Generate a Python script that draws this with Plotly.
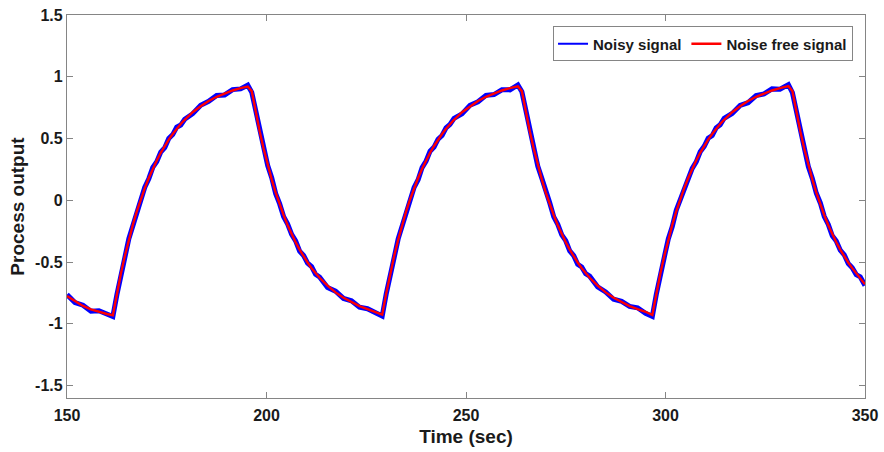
import plotly.graph_objects as go

# Time axis (sec)
time_s = [150, 152, 154, 156, 158, 160, 161.5,
          162.5, 163.5, 164.5, 165.5, 166.5, 167.5, 168.5, 169.5, 170.5, 171.5, 172.5, 173.5,
          174.5, 175.5, 176.5, 177.5, 178.5, 179.5, 181.5, 183.5, 185.5, 187.5, 189.5, 191.5, 193.5, 195.3,
          196.3, 197.3, 198.3, 199.3, 200.3, 201.3, 202.3, 203.3, 204.3, 205.3, 206.3, 207.3, 208.3,
          209.3, 210.3, 211.3, 212.3, 213.3, 215.3, 217.3, 219.3, 221.3, 223.3, 225.3, 227.3, 229.0,
          230, 231, 232, 233, 234, 235, 236, 237, 238, 239, 240, 241, 242, 243, 244, 245, 246, 247,
          249, 251, 253, 255, 257, 259, 261, 263.0,
          264, 265, 266, 267, 268, 269, 270, 271, 272, 273, 274, 275, 276, 277, 278, 279, 280, 281,
          283, 285, 287, 289, 291, 293, 295, 296.7,
          297.7, 298.7, 299.7, 300.7, 301.7, 302.7, 303.7, 304.7, 305.7, 306.7, 307.7, 308.7, 309.7,
          310.7, 311.7, 312.7, 313.7, 314.7, 316.7, 318.7, 320.7, 322.7, 324.7, 326.7, 328.7, 330.8,
          331.8, 332.8, 333.8, 334.8, 335.8, 336.8, 337.8, 338.8, 339.8, 340.8, 341.8, 342.8, 343.8,
          344.8, 345.8, 346.8, 347.8, 348.8, 350]

noise_free = [-0.775, -0.818, -0.855, -0.883, -0.904, -0.920, -0.930,
              -0.755, -0.595, -0.450, -0.319, -0.199, -0.090, 0.009, 0.099, 0.181, 0.255, 0.323, 0.385,
              0.440, 0.491, 0.537, 0.579, 0.618, 0.652, 0.713, 0.762, 0.804, 0.838, 0.866, 0.889, 0.908, 0.920,
              0.884, 0.713, 0.557, 0.415, 0.287, 0.170, 0.063, -0.033, -0.121, -0.201, -0.273, -0.339, -0.399,
              -0.454, -0.503, -0.549, -0.589, -0.627, -0.691, -0.745, -0.789, -0.826, -0.856, -0.881, -0.902, -0.925,
              -0.755, -0.595, -0.450, -0.319, -0.199, -0.090, 0.009, 0.099, 0.181, 0.255, 0.323, 0.385, 0.440,
              0.491, 0.537, 0.579, 0.618, 0.652,
              0.713, 0.762, 0.804, 0.838, 0.866, 0.889, 0.908, 0.922,
              0.884, 0.713, 0.557, 0.415, 0.287, 0.170, 0.063, -0.033, -0.121, -0.201, -0.273, -0.339, -0.399,
              -0.454, -0.503, -0.549, -0.589, -0.627,
              -0.691, -0.745, -0.789, -0.826, -0.856, -0.881, -0.902, -0.928,
              -0.755, -0.595, -0.450, -0.319, -0.199, -0.090, 0.009, 0.099, 0.181, 0.255, 0.323, 0.385, 0.440,
              0.491, 0.537, 0.579, 0.618, 0.652, 0.713, 0.762, 0.804, 0.838, 0.866, 0.889, 0.908, 0.924,
              0.884, 0.713, 0.557, 0.415, 0.287, 0.170, 0.063, -0.033, -0.121, -0.201, -0.273, -0.339, -0.399,
              -0.454, -0.503, -0.549, -0.589, -0.627, -0.680]

noisy = [-0.763, -0.828, -0.849, -0.897, -0.894, -0.925, -0.940,
         -0.764, -0.591, -0.462, -0.311, -0.202, -0.079, -0.004, 0.106, 0.175, 0.267, 0.313, 0.391,
         0.426, 0.501, 0.532, 0.592, 0.609, 0.656, 0.701, 0.770, 0.801, 0.849, 0.853, 0.896, 0.902, 0.932,
         0.874, 0.719, 0.543, 0.425, 0.282, 0.183, 0.054, -0.029, -0.133, -0.193, -0.276, -0.328, -0.412,
         -0.447, -0.509, -0.537, -0.599, -0.621, -0.705, -0.735, -0.794, -0.813, -0.865, -0.877, -0.914, -0.937,
         -0.758, -0.584, -0.463, -0.312, -0.205, -0.078, -0.001, 0.105, 0.167, 0.265, 0.318, 0.398, 0.431,
         0.495, 0.525, 0.587, 0.615, 0.663,
         0.700, 0.769, 0.798, 0.850, 0.856, 0.895, 0.894, 0.934,
         0.879, 0.726, 0.548, 0.419, 0.275, 0.178, 0.060, -0.022, -0.134, -0.194, -0.279, -0.327, -0.409,
         -0.448, -0.517, -0.539, -0.594, -0.614,
         -0.700, -0.741, -0.801, -0.818, -0.859, -0.870, -0.915, -0.940,
         -0.761, -0.583, -0.460, -0.313, -0.213, -0.080, 0.004, 0.112, 0.172, 0.259, 0.311, 0.393, 0.437,
         0.502, 0.524, 0.586, 0.612, 0.664, 0.703, 0.768, 0.790, 0.848, 0.861, 0.902, 0.899, 0.936,
         0.872, 0.721, 0.554, 0.426, 0.274, 0.177, 0.057, -0.021, -0.131, -0.195, -0.287, -0.329, -0.404,
         -0.441, -0.512, -0.545, -0.601, -0.619, -0.690]

x_ticks = [150, 200, 250, 300, 350]
y_ticks = [-1.5, -1, -0.5, 0, 0.5, 1, 1.5]
y_tick_labels = ["-1.5", "-1", "-0.5", "0", "0.5", "1", "1.5"]

FONT = "Liberation Sans, Arial, sans-serif"

fig = go.Figure()
fig.add_trace(go.Scatter(x=time_s, y=noisy, mode="lines", name="Noisy signal",
                         line=dict(color="#0000FF", width=5), showlegend=False,
                         legendgroup="noisy"))
# legend entry for the noisy signal (thin line sample, as in the original legend)
fig.add_trace(go.Scatter(x=[None], y=[None], mode="lines", name="Noisy signal",
                         line=dict(color="#0000FF", width=2), legendgroup="noisy"))
fig.add_trace(go.Scatter(x=time_s, y=noise_free, mode="lines", name="Noise free signal",
                         line=dict(color="#FF0000", width=2.4)))

axis_common = dict(showline=True, mirror="ticks", linecolor="#858585", linewidth=1.3,
                   ticks="inside", ticklen=6, tickcolor="#858585", tickwidth=1,
                   showgrid=False, zeroline=False, ticklabeloverflow="allow", automargin=False,
                   tickfont=dict(family=FONT, size=16, color="#1a1a1a", weight="bold"))

fig.update_layout(
    width=884, height=452,
    margin=dict(l=67, r=19, t=15, b=54),
    paper_bgcolor="white", plot_bgcolor="white",
    xaxis=dict(range=[150, 350], tickvals=x_ticks, ticklabelstandoff=3,
               title=dict(text="Time (sec)", standoff=6,
                          font=dict(family=FONT, size=19, color="#1a1a1a", weight="bold")),
               **axis_common),
    yaxis=dict(range=[-1.6, 1.5], tickvals=y_ticks, ticktext=y_tick_labels,
               title=dict(text="Process output", standoff=5,
                          font=dict(family=FONT, size=19, color="#1a1a1a", weight="bold")),
               **axis_common),
    legend=dict(orientation="h", x=0.985, xanchor="right", y=0.97, yanchor="top",
                bgcolor="white", bordercolor="#858585", borderwidth=1,
                font=dict(family=FONT, size=15, color="#1a1a1a", weight="bold"),
                itemwidth=30, tracegroupgap=0),
    showlegend=True,
)

# remove the browser's default 8 px body margin so the 884x452 figure fills the window
fig.write_html("out.html", config={"displayModeBar": False},
               post_script="document.body.style.margin='0px';document.body.style.overflow='hidden';")
